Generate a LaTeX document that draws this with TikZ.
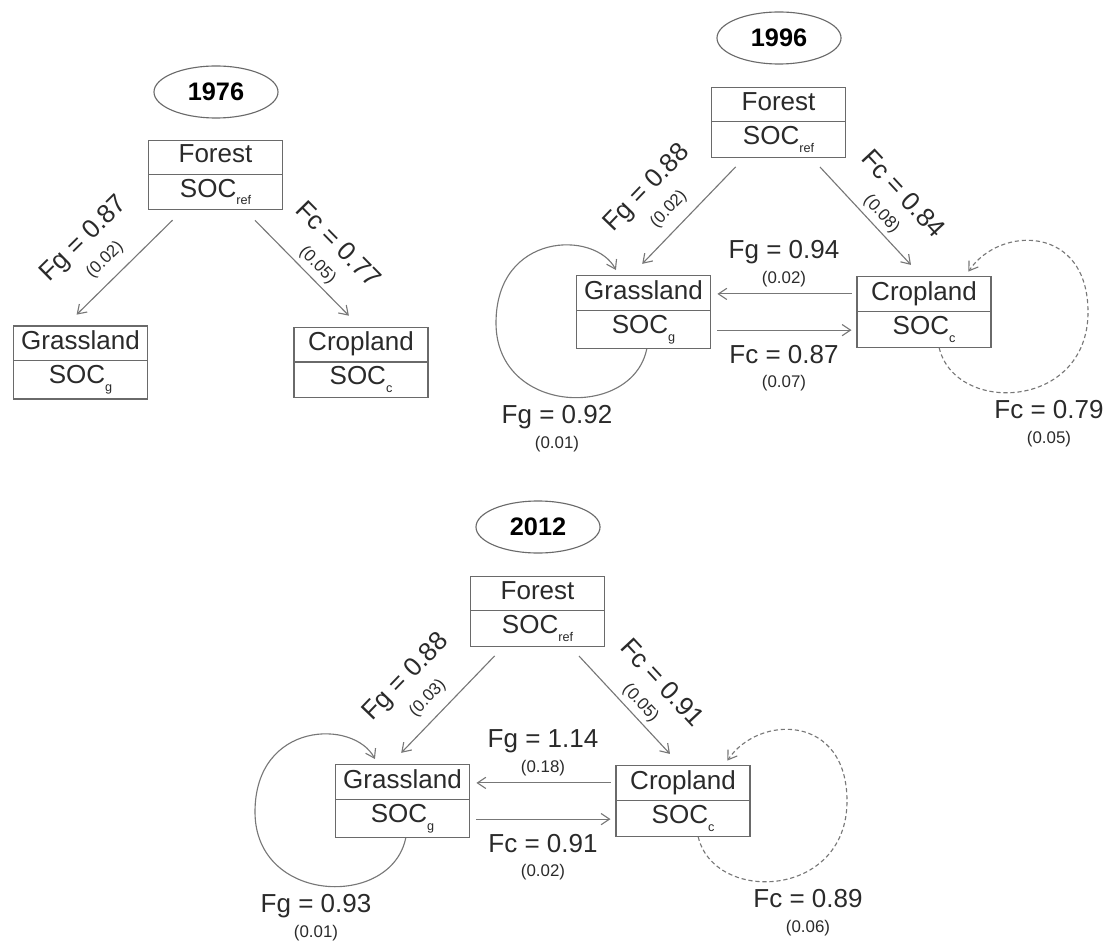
\documentclass[tikz,border=0pt]{standalone}
\usepackage{fontspec}
\setmainfont{Liberation Sans}
\usepackage{tikz}
\usetikzlibrary{shapes.multipart,shapes.geometric,arrows.meta}
\definecolor{cbox}{HTML}{6A6A6A}
\definecolor{carr}{HTML}{777777}
\definecolor{ctxt}{HTML}{2A2A2A}
\newcommand{\soc}[1]{SOC\raisebox{-0.3em}{\fontsize{9}{9}\selectfont #1}}
\newcommand{\cellstrut}{\rule[-4.5pt]{0pt}{16.5pt}}
\tikzset{
  land/.style={rectangle split, rectangle split parts=2, draw=cbox, line width=0.8pt,
    text width=3.35cm, align=center, inner xsep=0pt, inner ysep=3pt,
    font=\fontsize{18.5}{20}\selectfont, text=ctxt},
  yearbox/.style={ellipse, draw=cbox, line width=0.8pt, minimum width=3.1cm,
    minimum height=1.3cm, inner sep=0pt, font=\fontsize{18}{20}\selectfont\bfseries},
  flow/.style={->, draw=carr, line width=0.8pt},
  big/.style={font=\fontsize{18.5}{20}\selectfont, text=ctxt, inner sep=0pt},
  sml/.style={font=\fontsize{12}{13}\selectfont, text=ctxt, inner sep=0pt}
}
\begin{document}
\begin{tikzpicture}[x=0.025cm, y=-0.025cm, >={Straight Barb[length=6pt,width=8pt]}]
  \useasboundingbox (0,0) rectangle (1108,944);
  % 1976
  \node[yearbox] (y76) at (216,92) {1976};
  \node[land] (f76) at (215.5,175) {\cellstrut Forest\nodepart{two}\cellstrut\soc{ref}};
  \node[land] (g76) at (80.5,362.5) {\cellstrut Grassland\nodepart{two}\cellstrut\soc{g}};
  \node[land] (c76) at (361,362.5) {\cellstrut Cropland\nodepart{two}\cellstrut\soc{c}};
  \draw[flow, shorten <=10pt, shorten >=11pt] (f76.-133) -- (g76.112)
    node[pos=.55, sloped, above=7.4pt, sml] (fg76s) {(0.02)}
    node[pos=.55, sloped, above=25.7pt, big] (fg76) {Fg = 0.87};
  \draw[flow, shorten <=10pt, shorten >=11pt] (f76.-50) -- (c76.92)
    node[pos=.55, sloped, above=3.2pt, sml] (fc76s) {(0.05)}
    node[pos=.55, sloped, above=23.9pt, big] (fc76) {Fc = 0.77};
  % 1996
  \node[yearbox] (y96) at (779,38) {1996};
  \node[land] (f96) at (778.5,122.5) {\cellstrut Forest\nodepart{two}\cellstrut\soc{ref}};
  \node[land] (g96) at (643.5,312) {\cellstrut Grassland\nodepart{two}\cellstrut\soc{g}};
  \node[land] (c96) at (924,312) {\cellstrut Cropland\nodepart{two}\cellstrut\soc{c}};
  \draw[flow, shorten <=9pt, shorten >=11pt] (f96.-134) -- (g96.108)
    node[pos=.55, sloped, above=7.4pt, sml] (fg96s) {(0.02)}
    node[pos=.55, sloped, above=25.7pt, big] (fg96) {Fg = 0.88};
  \draw[flow, shorten <=9pt, shorten >=11pt] (f96.-47) -- (c96.94)
    node[pos=.55, sloped, above=3.2pt, sml] (fc96s) {(0.08)}
    node[pos=.55, sloped, above=23.9pt, big] (fc96) {Fc = 0.84};
  \draw[flow, shorten <=3.5pt, shorten >=4.5pt] (c96.165) -- (g96.15);
  \draw[flow, shorten <=4.5pt, shorten >=3.5pt] (g96.-15) -- (c96.-165);
  \node[big] (hg96) at (784,252) {Fg = 0.94};
  \node[sml] (hg96s) at (784,279) {(0.02)};
  \node[big] (hc96) at (784,355) {Fc = 0.87};
  \node[sml] (hc96s) at (784,383) {(0.07)};
  \draw[flow, shorten >=4pt] (g96.-85) .. controls (632,420) and (496,415) .. (496,323)
    .. controls (496,232) and (595,230) .. (g96.124);
  \draw[flow, dash pattern=on 3pt off 2pt, shorten >=4pt] (c96.-67) .. controls (955,415) and (1088,410) .. (1088,312)
    .. controls (1088,225) and (1000,225) .. (c96.41);
  \node[big] (lg96) at (557,417) {Fg = 0.92};
  \node[sml] (lg96s) at (557,444) {(0.01)};
  \node[big] (lc96) at (1049,410) {Fc = 0.79};
  \node[sml] (lc96s) at (1049,439) {(0.05)};
  % 2012
  \begin{scope}[shift={(-241,489)}]
    \node[yearbox] (y12) at (779,38) {2012};
    \node[land] (f12) at (778.5,122.5) {\cellstrut Forest\nodepart{two}\cellstrut\soc{ref}};
    \node[land] (g12) at (643.5,312) {\cellstrut Grassland\nodepart{two}\cellstrut\soc{g}};
    \node[land] (c12) at (924,312) {\cellstrut Cropland\nodepart{two}\cellstrut\soc{c}};
    \draw[flow, shorten <=9pt, shorten >=11pt] (f12.-134) -- (g12.108)
      node[pos=.55, sloped, above=7.4pt, sml] (fg12s) {(0.03)}
      node[pos=.55, sloped, above=25.7pt, big] (fg12) {Fg = 0.88};
    \draw[flow, shorten <=9pt, shorten >=11pt] (f12.-47) -- (c12.94)
      node[pos=.55, sloped, above=3.2pt, sml] (fc12s) {(0.05)}
      node[pos=.55, sloped, above=23.9pt, big] (fc12) {Fc = 0.91};
    \draw[flow, shorten <=3.5pt, shorten >=4.5pt] (c12.165) -- (g12.15);
    \draw[flow, shorten <=4.5pt, shorten >=3.5pt] (g12.-15) -- (c12.-165);
    \node[big] (hg12) at (784,252) {Fg = 1.14};
    \node[sml] (hg12s) at (784,279) {(0.18)};
    \node[big] (hc12) at (784,355) {Fc = 0.91};
    \node[sml] (hc12s) at (784,383) {(0.02)};
    \draw[flow, shorten >=4pt] (g12.-85) .. controls (632,420) and (496,415) .. (496,323)
      .. controls (496,232) and (595,230) .. (g12.124);
    \draw[flow, dash pattern=on 3pt off 2pt, shorten >=4pt] (c12.-67) .. controls (955,415) and (1088,410) .. (1088,312)
      .. controls (1088,225) and (1000,225) .. (c12.41);
    \node[big] (lg12) at (557,417) {Fg = 0.93};
    \node[sml] (lg12s) at (557,444) {(0.01)};
    \node[big] (lc12) at (1049,410) {Fc = 0.89};
    \node[sml] (lc12s) at (1049,439) {(0.06)};
  \end{scope}
\end{tikzpicture}
\end{document}
